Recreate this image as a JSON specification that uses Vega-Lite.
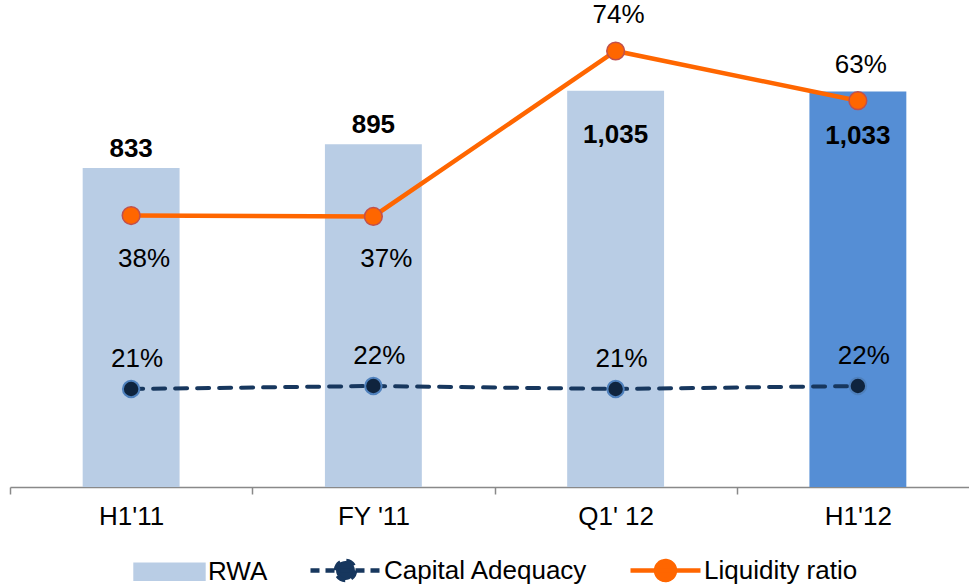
{
  "$schema": "https://vega.github.io/schema/vega-lite/v6.json",
  "autosize": {"type": "none"},
  "width": 959,
  "height": 487,
  "padding": {"left": 10, "top": 0, "right": 0, "bottom": 100},
  "config": {
    "view": {"stroke": null},
    "font": "Liberation Sans",
    "text": {"font": "Liberation Sans", "fontSize": 26, "color": "black"}
  },
  "data": {
    "values": [
      {"period": "H1'11", "series": "RWA", "value": 833},
      {"period": "FY '11", "series": "RWA", "value": 895},
      {"period": "Q1' 12", "series": "RWA", "value": 1035},
      {"period": "H1'12", "series": "RWA", "value": 1033},
      {"period": "H1'11", "series": "Capital Adequacy", "value": 0.21},
      {"period": "FY '11", "series": "Capital Adequacy", "value": 0.22},
      {"period": "Q1' 12", "series": "Capital Adequacy", "value": 0.21},
      {"period": "H1'12", "series": "Capital Adequacy", "value": 0.22},
      {"period": "H1'11", "series": "Liquidity ratio", "value": 0.376},
      {"period": "FY '11", "series": "Liquidity ratio", "value": 0.374},
      {"period": "Q1' 12", "series": "Liquidity ratio", "value": 0.74},
      {"period": "H1'12", "series": "Liquidity ratio", "value": 0.63}
    ]
  },
  "encoding": {
    "x": {
      "field": "period",
      "type": "nominal",
      "sort": ["H1'11", "FY '11", "Q1' 12", "H1'12"],
      "scale": {"range": [0, 969], "paddingInner": 0, "paddingOuter": 0},
      "axis": {
        "title": null,
        "labelAngle": 0,
        "tickBand": "extent",
        "labelFont": "Liberation Sans",
        "labelFontSize": 26,
        "labelColor": "black",
        "labelPadding": 9,
        "tickSize": 7,
        "tickWidth": 1.5,
        "tickColor": "#898989",
        "domainColor": "#898989",
        "domainWidth": 1.5,
        "grid": false
      }
    }
  },
  "layer": [
    {
      "transform": [{"filter": "datum.series === 'RWA'"}],
      "mark": {"type": "bar", "width": {"band": 0.4}},
      "encoding": {
        "y": {"field": "value", "type": "quantitative", "scale": {"domain": [0, 1272], "nice": false}, "axis": null},
        "color": {
          "condition": {"test": "datum.period === \"H1'12\"", "value": "#558ED5"},
          "field": "series",
          "type": "nominal",
          "scale": {"domain": ["RWA", "Capital Adequacy", "Liquidity ratio"], "range": ["#B9CDE5", "#17375E", "#FF6600"]},
          "legend": {
            "orient": "none",
            "legendX": 122,
            "legendY": 533,
            "direction": "horizontal",
            "title": null,
            "padding": 0,
            "symbolSize": 4900,
            "symbolStrokeWidth": 4.5,
            "labelFont": "Liberation Sans",
            "labelFontSize": 26,
            "labelColor": "black",
            "labelOffset": 1,
            "labelLimit": 400,
            "columnPadding": 33,
            "encode": {
              "symbols": {
                "update": {
                  "size": {"value": 4900},
                  "shape": {"signal": "datum.value === 'RWA' ? 'M-0.97,-0.2H0.97V0.2H-0.97Z' : 'M-1,0H1M0.27,0A0.27,0.27,0,1,1,-0.27,0A0.27,0.27,0,1,1,0.27,0Z'"},
                  "fill": {"signal": "datum.value === 'RWA' ? '#B9CDE5' : (datum.value === 'Capital Adequacy' ? '#10253F' : '#FF6600')"},
                  "stroke": {"signal": "datum.value === 'RWA' ? 'transparent' : (datum.value === 'Capital Adequacy' ? '#17375E' : '#FF6600')"},
                  "strokeDash": {"signal": "datum.value === 'Capital Adequacy' ? [9, 6] : [1, 0]"},
                  "opacity": {"value": 1},
                  "fillOpacity": {"value": 1}
                }
              }
            }
          }
        }
      }
    },
    {
      "transform": [{"filter": "datum.series === 'Capital Adequacy'"}],
      "mark": {"type": "line", "strokeWidth": 4, "strokeDash": [12, 10], "strokeCap": "round"},
      "encoding": {
        "y": {"field": "value", "type": "quantitative", "scale": {"domain": [-0.1167, 1.5067], "nice": false, "zero": false}, "axis": null},
        "color": {"field": "series", "type": "nominal"}
      }
    },
    {
      "transform": [{"filter": "datum.series === 'Capital Adequacy'"}],
      "mark": {"type": "circle", "size": 270, "fill": "#0F243E", "stroke": "#4F81BD", "strokeWidth": 2, "opacity": 1},
      "encoding": {
        "y": {"field": "value", "type": "quantitative", "scale": {"domain": [-0.1167, 1.5067], "nice": false, "zero": false}, "axis": null}
      }
    },
    {
      "transform": [{"filter": "datum.series === 'Liquidity ratio'"}],
      "mark": {"type": "line", "strokeWidth": 4.5},
      "encoding": {
        "y": {"field": "value", "type": "quantitative", "scale": {"domain": [-0.2245, 0.8528], "nice": false, "zero": false}, "axis": null},
        "color": {"field": "series", "type": "nominal"}
      }
    },
    {
      "transform": [{"filter": "datum.series === 'Liquidity ratio'"}],
      "mark": {"type": "circle", "size": 314, "fill": "#FF6600", "stroke": "#C0504D", "strokeWidth": 1.5, "opacity": 1},
      "encoding": {
        "y": {"field": "value", "type": "quantitative", "scale": {"domain": [-0.2245, 0.8528], "nice": false, "zero": false}, "axis": null}
      }
    },
    {
      "transform": [{"filter": "datum.series === 'RWA' && datum.value < 1000"}],
      "mark": {"type": "text", "fontWeight": "bold", "fontSize": 26, "baseline": "middle", "dy": -19},
      "encoding": {
        "y": {"field": "value", "type": "quantitative", "scale": {"domain": [0, 1272], "nice": false}, "axis": null},
        "text": {"field": "value", "type": "quantitative", "format": ","}
      }
    },
    {
      "transform": [{"filter": "datum.series === 'RWA' && datum.value >= 1000"}],
      "mark": {"type": "text", "fontWeight": "bold", "fontSize": 26, "baseline": "middle", "dy": 44},
      "encoding": {
        "y": {"field": "value", "type": "quantitative", "scale": {"domain": [0, 1272], "nice": false}, "axis": null},
        "text": {"field": "value", "type": "quantitative", "format": ","}
      }
    },
    {
      "transform": [{"filter": "datum.series === 'Capital Adequacy'"}],
      "mark": {"type": "text", "fontSize": 26, "baseline": "middle", "dx": 6, "dy": -30},
      "encoding": {
        "y": {"field": "value", "type": "quantitative", "scale": {"domain": [-0.1167, 1.5067], "nice": false, "zero": false}, "axis": null},
        "text": {"field": "value", "type": "quantitative", "format": ".0%"}
      }
    },
    {
      "transform": [{"filter": "datum.series === 'Liquidity ratio' && datum.value < 0.5"}],
      "mark": {"type": "text", "fontSize": 26, "baseline": "middle", "dx": 13, "dy": 43},
      "encoding": {
        "y": {"field": "value", "type": "quantitative", "scale": {"domain": [-0.2245, 0.8528], "nice": false, "zero": false}, "axis": null},
        "text": {"field": "value", "type": "quantitative", "format": ".0%"}
      }
    },
    {
      "transform": [{"filter": "datum.series === 'Liquidity ratio' && datum.value >= 0.5"}],
      "mark": {"type": "text", "fontSize": 26, "baseline": "middle", "dx": 3, "dy": -36},
      "encoding": {
        "y": {"field": "value", "type": "quantitative", "scale": {"domain": [-0.2245, 0.8528], "nice": false, "zero": false}, "axis": null},
        "text": {"field": "value", "type": "quantitative", "format": ".0%"}
      }
    }
  ],
  "resolve": {"scale": {"y": "independent"}}
}
